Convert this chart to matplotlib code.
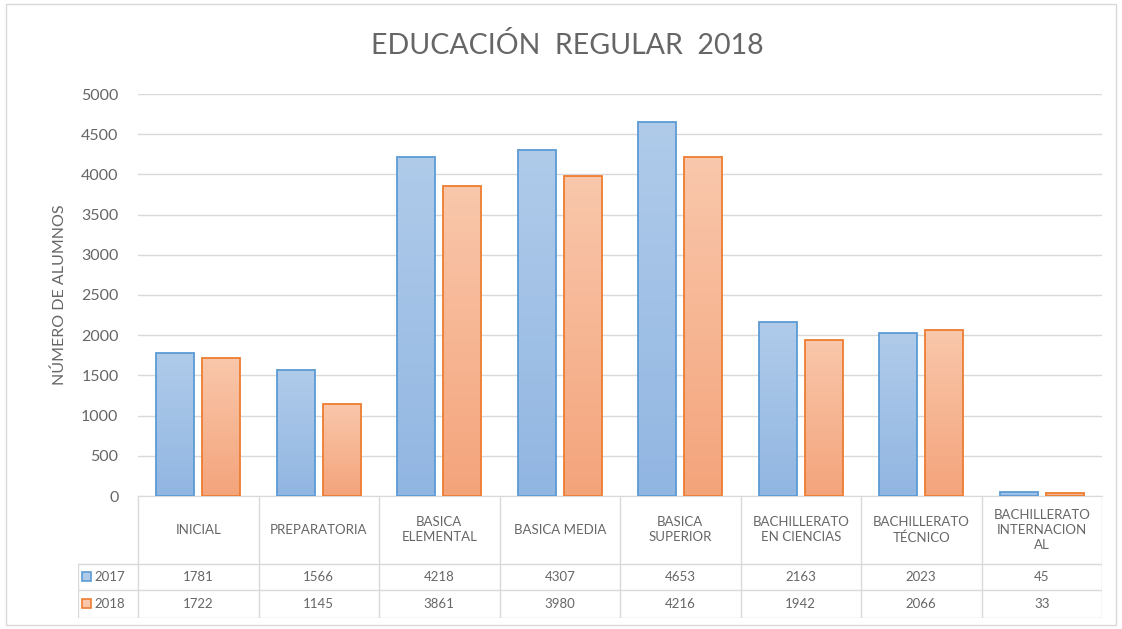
import matplotlib.pyplot as plt
import matplotlib.colors as mcolors
import numpy as np

# Data
categories = ["INICIAL", "PREPARATORIA", "BASICA\nELEMENTAL", "BASICA MEDIA",
              "BASICA\nSUPERIOR", "BACHILLERATO\nEN CIENCIAS", "BACHILLERATO\nTÉCNICO",
              "BACHILLERATO\nINTERNACION\nAL"]
years = ["2017", "2018"]
values_2017 = [1781, 1566, 4218, 4307, 4653, 2163, 2023, 45]
values_2018 = [1722, 1145, 3861, 3980, 4216, 1942, 2066, 33]
yticks = [0, 500, 1000, 1500, 2000, 2500, 3000, 3500, 4000, 4500, 5000]

edge_colors = ["#5b9bd5", "#ed7d31"]
grad_colors = [("#b0cbea", "#91b6e2"), ("#f9c7ab", "#f4a47b")]
text_gray = "#666666"
grid_gray = "#d9d9d9"

plt.rcParams['font.family'] = ['Lato', 'DejaVu Sans']

W, H = 1122, 629
fig = plt.figure(figsize=(W / 100, H / 100), dpi=100)


def px_rect(x0, y0, x1, y1):
    return [x0 / W, 1 - y1 / H, (x1 - x0) / W, (y1 - y0) / H]


# outer frame
frame = plt.Rectangle((6 / W, 4 / H), 1 - 12 / W, 1 - 8 / H, transform=fig.transFigure,
                      fill=False, edgecolor=grid_gray, linewidth=1)
fig.patches.append(frame)

ax = fig.add_axes(px_rect(138, 94, 1102, 496))
n = len(categories)
x = np.arange(n)
bw = 0.315
offset = 0.19

for k, vals in enumerate([values_2017, values_2018]):
    xs = x + (offset if k else -offset)
    bars = ax.bar(xs, vals, width=bw, facecolor="none", edgecolor=edge_colors[k],
                  linewidth=1.3, zorder=3)
    cmap = mcolors.LinearSegmentedColormap.from_list("g%d" % k, [grad_colors[k][1], grad_colors[k][0]])
    for b in bars:
        x0, y0 = b.get_x(), b.get_y()
        w, h = b.get_width(), b.get_height()
        grad = np.linspace(0, 1, 100).reshape(-1, 1)
        im = ax.imshow(grad, cmap=cmap, origin="lower", aspect="auto",
                       extent=[x0, x0 + w, y0, y0 + h], zorder=2)
        im.set_clip_path(b)

ax.set_xlim(-0.5, n - 0.5)
ax.set_ylim(0, 5000)
ax.set_yticks(yticks)
ax.set_xticks([])
ax.yaxis.grid(True, color=grid_gray, linewidth=1)
ax.set_axisbelow(True)
for s in ["top", "right", "left"]:
    ax.spines[s].set_visible(False)
ax.spines["bottom"].set_color(grid_gray)
ax.tick_params(axis="y", length=0, labelsize=11.5, labelcolor=text_gray, pad=14)
ax.set_ylabel("NÚMERO DE ALUMNOS", fontsize=11.5, color=text_gray, labelpad=10)

fig.text(567 / W, 1 - 45 / H, "EDUCACIÓN  REGULAR  2018", ha="center", va="center",
         fontsize=20.5, color=text_gray)

# data table below the chart
tab = fig.add_axes(px_rect(78, 496, 1102, 618))
lab_w = 60 / 120.5
tab.set_xlim(-0.5 - lab_w, n - 0.5)
tab.set_ylim(121, 0)
tab.axis("off")
lc = dict(color=grid_gray, linewidth=1)
row_y = [0, 67, 93, 121]
for i in range(n + 1):
    tab.plot([i - 0.5, i - 0.5], [0, 121], **lc)
tab.plot([-0.5 - lab_w, -0.5 - lab_w], [67, 121], **lc)
for yy in row_y[1:]:
    tab.plot([-0.5 - lab_w, n - 0.5], [yy, yy], **lc)

for i, cat in enumerate(categories):
    tab.text(i, 33.5, cat, ha="center", va="center", fontsize=9.5, color=text_gray,
             linespacing=1.3)
    tab.text(i, 80, str(values_2017[i]), ha="center", va="center", fontsize=9.5, color=text_gray)
    tab.text(i, 107, str(values_2018[i]), ha="center", va="center", fontsize=9.5, color=text_gray)

for k, yr in enumerate(years):
    yc = 80 if k == 0 else 107
    sq = plt.Rectangle((-0.5 - lab_w + 0.03, yc - 4.5), 0.075, 9,
                       facecolor=grad_colors[k][0], edgecolor=edge_colors[k], linewidth=1.2)
    tab.add_patch(sq)
    tab.text(-0.5 - lab_w + 0.14, yc, yr, ha="left", va="center", fontsize=9.5, color=text_gray)

fig.savefig("out.png", dpi=100)
